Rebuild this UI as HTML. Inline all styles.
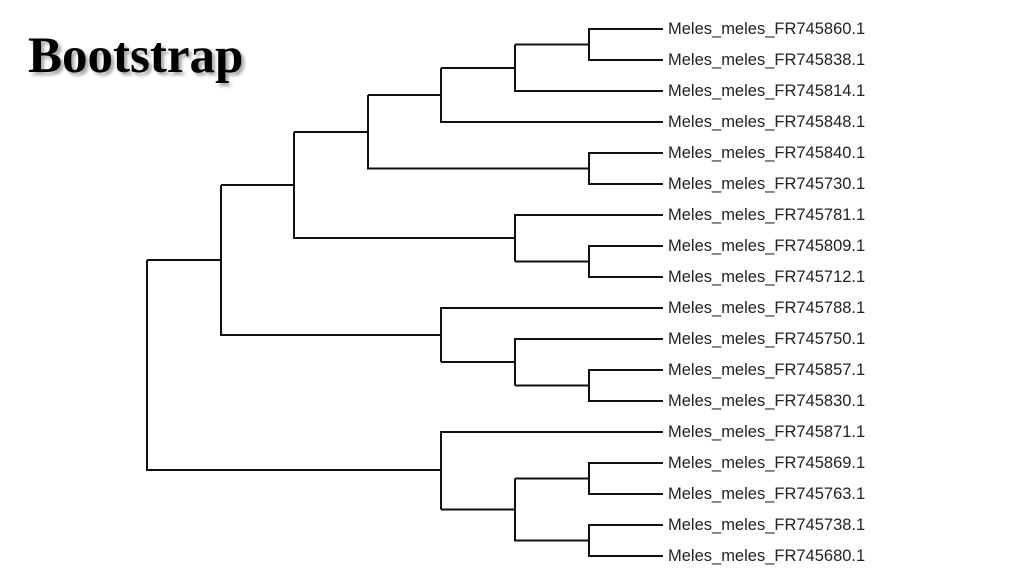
<!DOCTYPE html>
<html><head><meta charset="utf-8"><style>
html,body{margin:0;padding:0;background:#fff;}
body{width:1024px;height:574px;overflow:hidden;position:relative;}
.t{position:absolute;left:28px;top:31px;font:bold 51px "Liberation Serif",serif;color:#000;text-shadow:3px 3px 3px rgba(0,0,0,0.35);line-height:1;}
</style></head><body>
<div class="t">Bootstrap</div>
<svg width="1024" height="574" style="position:absolute;left:0;top:0">
<g stroke="#111" stroke-width="1.6" fill="none" shape-rendering="crispEdges">
<path d="M663 29H589V60H663 M589 44.5H515 M663 91H515V44.5 M515 68H441 M663 122H441V68 M441 95H368
M663 153H589V184H663 M589 168.5H368V95 M368 132H294
M663 246H589V277H663 M589 261.5H515 M663 215H515V261.5 M515 238H294V132 M294 185H221
M663 370H589V401H663 M589 385.5H515 M663 339H515V385.5 M515 362H441 M663 308H441V362 M441 335H221V185 M221 260H147
M663 463H589V494H663 M589 478.5H515 M663 525H589V556H663 M589 540.5H515V478.5 M515 509.5H441 M663 432H441V509.5 M441 470H147V260"/>
</g>
<g font-family="Liberation Sans, sans-serif" font-size="16.5" fill="#222">
<text x="668" y="34">Meles_meles_FR745860.1</text>
<text x="668" y="65">Meles_meles_FR745838.1</text>
<text x="668" y="96">Meles_meles_FR745814.1</text>
<text x="668" y="127">Meles_meles_FR745848.1</text>
<text x="668" y="158">Meles_meles_FR745840.1</text>
<text x="668" y="189">Meles_meles_FR745730.1</text>
<text x="668" y="220">Meles_meles_FR745781.1</text>
<text x="668" y="251">Meles_meles_FR745809.1</text>
<text x="668" y="282">Meles_meles_FR745712.1</text>
<text x="668" y="313">Meles_meles_FR745788.1</text>
<text x="668" y="344">Meles_meles_FR745750.1</text>
<text x="668" y="375">Meles_meles_FR745857.1</text>
<text x="668" y="406">Meles_meles_FR745830.1</text>
<text x="668" y="437">Meles_meles_FR745871.1</text>
<text x="668" y="468">Meles_meles_FR745869.1</text>
<text x="668" y="499">Meles_meles_FR745763.1</text>
<text x="668" y="530">Meles_meles_FR745738.1</text>
<text x="668" y="561">Meles_meles_FR745680.1</text>
</g>
</svg>
</body></html>
